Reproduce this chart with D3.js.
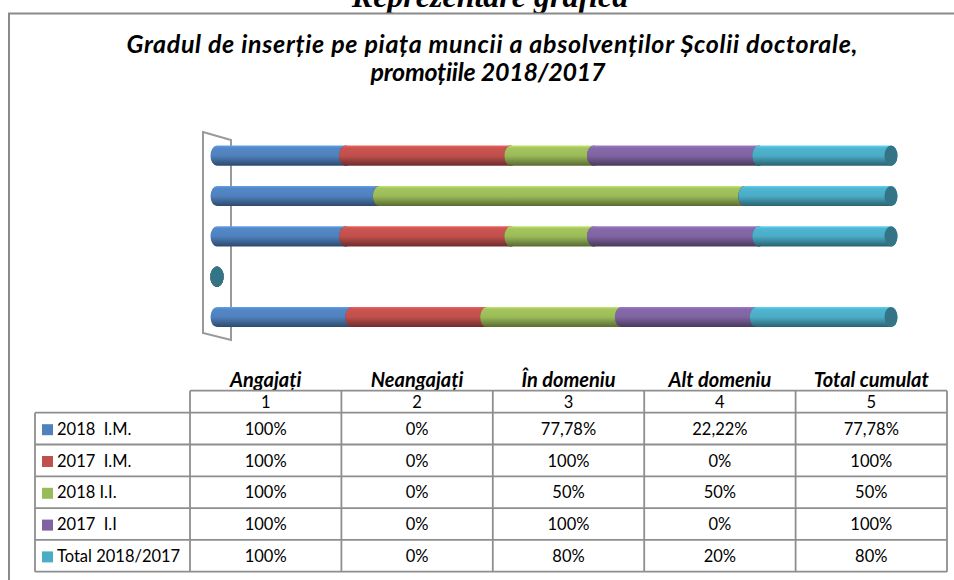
<!DOCTYPE html>
<html>
<head>
<meta charset="utf-8">
<script src="https://cdn.jsdelivr.net/npm/d3@7"></script>
<style>
  body { margin: 0; background: #fff; }
  text { font-family: Lato, "Open Sans", sans-serif; }
</style>
</head>
<body>
<div id="chart"></div>
<script>
// data
let categories = ["Angajați", "Neangajați", "În domeniu", "Alt domeniu", "Total cumulat"];
let catNumbers = [1, 2, 3, 4, 5];
let seriesNames = ["2018  I.M.", "2017  I.M.", "2018 I.I.", "2017  I.I", "Total 2018/2017"];
let seriesColors = ["#4F81BD", "#C0504D", "#9BBB59", "#8064A2", "#4BACC6"];
let values2018IM = [100, 0, 77.78, 22.22, 77.78];
let values2017IM = [100, 0, 100, 0, 100];
let values2018II = [100, 0, 50, 50, 50];
let values2017II = [100, 0, 100, 0, 100];
let valuesTotal = [100, 0, 80, 20, 80];
let seriesValues = [values2018IM, values2017IM, values2018II, values2017II, valuesTotal];

let width = 954, height = 580;

let svg = d3.select("#chart").append("svg")
    .attr("width", width)
    .attr("height", height);

// clipped heading above the frame
svg.append("text")
    .attr("x", 490).attr("y", 7)
    .attr("text-anchor", "middle")
    .style("font-family", "'Liberation Serif', serif")
    .style("font-weight", "bold").style("font-style", "italic")
    .style("font-size", "32px")
    .text("Reprezentare grafică");

// outer frame (runs off the right and bottom)
svg.append("rect")
    .attr("x", 9).attr("y", 13.5)
    .attr("width", 960).attr("height", 600)
    .attr("fill", "#fff")
    .attr("stroke", "#8a8a8a")
    .attr("stroke-width", 2);

// chart title
let title = svg.append("text")
    .attr("text-anchor", "middle")
    .style("font-weight", "bold").style("font-style", "italic")
    .style("font-size", "25px");
title.append("tspan").attr("x", 492).attr("y", 53)
    .attr("textLength", 731)
    .text("Gradul de inserție pe piața muncii a absolvenților Școlii doctorale,");
title.append("tspan").attr("x", 488).attr("y", 81)
    .attr("textLength", 235)
    .text("promoțiile 2018/2017");

// scales
let x = d3.scaleLinear().domain([0, 1]).range([217, 891]);
let y = d3.scaleBand().domain(catNumbers).range([337.2, 135.5]).paddingInner(0.5).paddingOuter(0.25);
let col = d3.scaleBand().domain(catNumbers).range([190, 947]);

// stack to 100%
let rows = catNumbers.map(function(c, i) {
    let r = {cat: c};
    seriesNames.forEach(function(s, j) { r[s] = seriesValues[j][i]; });
    return r;
});
let stacked = d3.stack().keys(seriesNames).offset(d3.stackOffsetExpand)(rows);

// gradients for cylinders
let defs = svg.append("defs");
seriesColors.forEach(function(c, i) {
    let g = defs.append("linearGradient")
        .attr("id", "grad" + i)
        .attr("x1", 0).attr("y1", 0).attr("x2", 0).attr("y2", 1);
    g.append("stop").attr("offset", "0%").attr("stop-color", d3.color(c).brighter(0.6));
    g.append("stop").attr("offset", "12%").attr("stop-color", d3.color(c).brighter(0.15));
    g.append("stop").attr("offset", "50%").attr("stop-color", c);
    g.append("stop").attr("offset", "100%").attr("stop-color", d3.color(c).darker(1.6));
});

// back wall
svg.append("path")
    .attr("d", "M203,132 L231,140 L231,340 L203,333 Z")
    .attr("fill", "none")
    .attr("stroke", "#999")
    .attr("stroke-width", 2);

let rx = 6.5;
let bh = y.bandwidth();
let ry = bh / 2;

function segPath(x0, x1, yc) {
    return "M" + x0 + "," + (yc - ry) +
        " L" + x1 + "," + (yc - ry) +
        " A" + rx + "," + ry + " 0 0 1 " + x1 + "," + (yc + ry) +
        " L" + x0 + "," + (yc + ry) +
        " A" + rx + "," + ry + " 0 0 1 " + x0 + "," + (yc - ry) + " Z";
}

let bars = svg.append("g");
catNumbers.forEach(function(c, i) {
    let yc = y(c) + bh / 2;
    stacked.forEach(function(layer, j) {
        let d = layer[i];
        bars.append("path")
            .attr("d", segPath(x(d[0]), x(d[1]), yc))
            .attr("fill", "url(#grad" + j + ")");
        bars.append("ellipse")
            .attr("cx", x(d[1])).attr("cy", yc)
            .attr("rx", rx).attr("ry", ry)
            .attr("fill", d3.color(seriesColors[j]).darker(1.1));
    });
});

// data table
let headTop = 390.7, headBottom = 412.7, rowH = 31.8, tableLeft = 35, legRight = 190;
let lineColor = "#8e8e8e";

// category names (descenders cut by the header row)
svg.append("g").selectAll("text")
    .data(catNumbers)
    .enter().append("text")
    .attr("x", function(d) { return col(d) + col.bandwidth() / 2; })
    .attr("y", 387)
    .attr("text-anchor", "middle")
    .style("font-weight", "bold").style("font-style", "italic")
    .style("font-size", "20px")
    .text(function(d, i) { return categories[i]; });

let table = svg.append("g");
table.append("rect")
    .attr("x", legRight).attr("y", headTop)
    .attr("width", col.range()[1] - legRight).attr("height", headBottom - headTop)
    .attr("fill", "#fff");

table.selectAll(".num")
    .data(catNumbers)
    .enter().append("text")
    .attr("x", function(d) { return col(d) + col.bandwidth() / 2; })
    .attr("y", headTop + 17)
    .attr("text-anchor", "middle")
    .style("font-size", "16.5px")
    .text(function(d) { return d; });

function fmt(v) {
    return (v % 1 === 0 ? String(v) : v.toFixed(2).replace(".", ",")) + "%";
}

seriesNames.forEach(function(s, j) {
    let top = headBottom + j * rowH;
    table.append("rect")
        .attr("x", 42).attr("y", top + 11.5)
        .attr("width", 11).attr("height", 11)
        .attr("fill", seriesColors[j]);
    table.append("text")
        .attr("x", 57).attr("y", top + 22)
        .style("font-size", "16.5px")
        .style("white-space", "pre")
        .text(s);
    table.selectAll(null)
        .data(catNumbers)
        .enter().append("text")
        .attr("x", function(d) { return col(d) + col.bandwidth() / 2; })
        .attr("y", top + 22)
        .attr("text-anchor", "middle")
        .style("font-size", "16.5px")
        .text(function(d, i) { return fmt(seriesValues[j][i]); });
});

// grid lines
let tableBottom = headBottom + seriesNames.length * rowH;
let right = col.range()[1];
table.append("line")
    .attr("x1", legRight).attr("x2", right)
    .attr("y1", headTop).attr("y2", headTop);
d3.range(seriesNames.length + 1).forEach(function(k) {
    let yy = headBottom + k * rowH;
    table.append("line")
        .attr("x1", tableLeft).attr("x2", right)
        .attr("y1", yy).attr("y2", yy);
});
table.append("line")
    .attr("x1", tableLeft).attr("x2", tableLeft)
    .attr("y1", headBottom).attr("y2", tableBottom);
catNumbers.forEach(function(c) {
    table.append("line")
        .attr("x1", col(c)).attr("x2", col(c))
        .attr("y1", headTop).attr("y2", tableBottom);
});
table.append("line")
    .attr("x1", right).attr("x2", right)
    .attr("y1", headTop).attr("y2", tableBottom);
table.selectAll("line")
    .attr("stroke", lineColor)
    .attr("stroke-width", 1.8);
</script>
</body>
</html>
